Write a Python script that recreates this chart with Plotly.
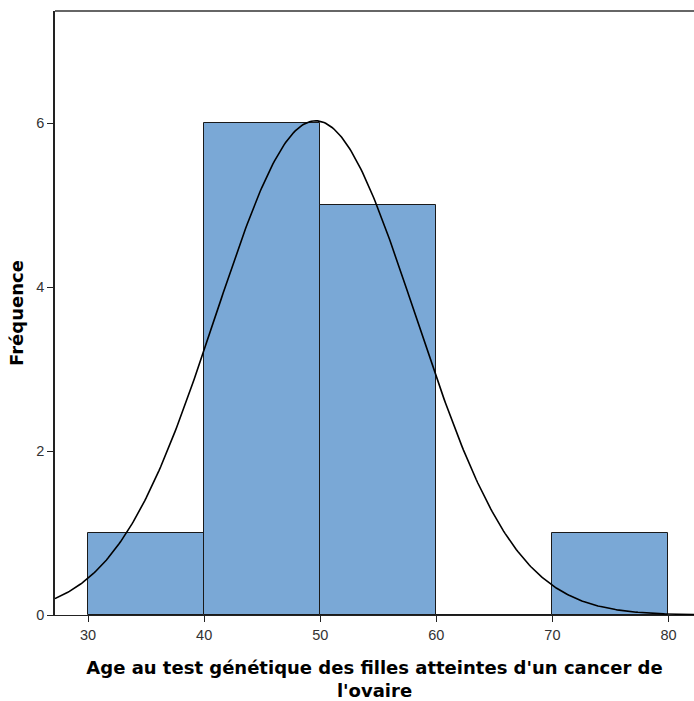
import numpy as np
import plotly.graph_objects as go

# Histogram data
bin_edges = [30, 40, 50, 60, 70, 80]
counts = [1, 6, 5, 0, 1]
# Normal curve parameters (fitted)
n_obs = 13
mean_age = 49.6
sd_age = 8.6
x_ticks = [30, 40, 50, 60, 70, 80]
y_ticks = [0, 2, 4, 6]

x_title = "Age au test génétique des filles atteintes d'un cancer de<br>l'ovaire"
y_title = "Fréquence"

centers = [(a + b) / 2 for a, b in zip(bin_edges[:-1], bin_edges[1:])]
widths = [b - a for a, b in zip(bin_edges[:-1], bin_edges[1:])]
bw = widths[0]

xr = [27.15, 82.2]
xc = np.linspace(xr[0], xr[1], 400)
yc = n_obs * bw / (sd_age * np.sqrt(2 * np.pi)) * np.exp(-0.5 * ((xc - mean_age) / sd_age) ** 2)

fig = go.Figure()
fig.add_trace(go.Bar(
    x=centers, y=counts, width=widths,
    marker=dict(color="#7AA8D6", line=dict(color="#1a1a1a", width=1)),
    hoverinfo="skip", showlegend=False,
))
fig.add_trace(go.Scatter(
    x=xc, y=yc, mode="lines", line=dict(color="black", width=1.6),
    hoverinfo="skip", showlegend=False,
))

title_font = dict(family="DejaVu Sans, Verdana, sans-serif", size=18, color="black", weight="bold")

fig.update_layout(
    width=694, height=701,
    margin=dict(l=55, r=0, t=11, b=86),
    plot_bgcolor="white", paper_bgcolor="white",
    bargap=0,
    font=dict(family="Liberation Sans, Arial, sans-serif", size=14.5, color="#333"),
    xaxis=dict(
        range=xr, tickvals=x_ticks, ticktext=[str(t) for t in x_ticks],
        ticks="outside", ticklen=6, tickcolor="#222", tickwidth=1,
        showline=True, linecolor="#222", linewidth=1.3,
        showgrid=False, zeroline=False,
        title=dict(text=x_title, font=title_font, standoff=20),
    ),
    yaxis=dict(
        range=[0, 7.37], tickvals=y_ticks, ticktext=[str(t) for t in y_ticks],
        ticks="outside", ticklen=6, tickcolor="#222", tickwidth=1,
        showline=True, linecolor="#222", linewidth=1.5,
        showgrid=False, zeroline=False,
        title=dict(text=y_title, font=title_font, standoff=8),
    ),
    shapes=[dict(type="line", xref="paper", yref="paper", x0=0, x1=1, y0=1, y1=1,
                 line=dict(color="#333", width=1.5))],
)

fig.write_html("out.html",
               config={"displayModeBar": False},
               post_script="document.body.style.margin='0';document.body.style.overflow='hidden';")
